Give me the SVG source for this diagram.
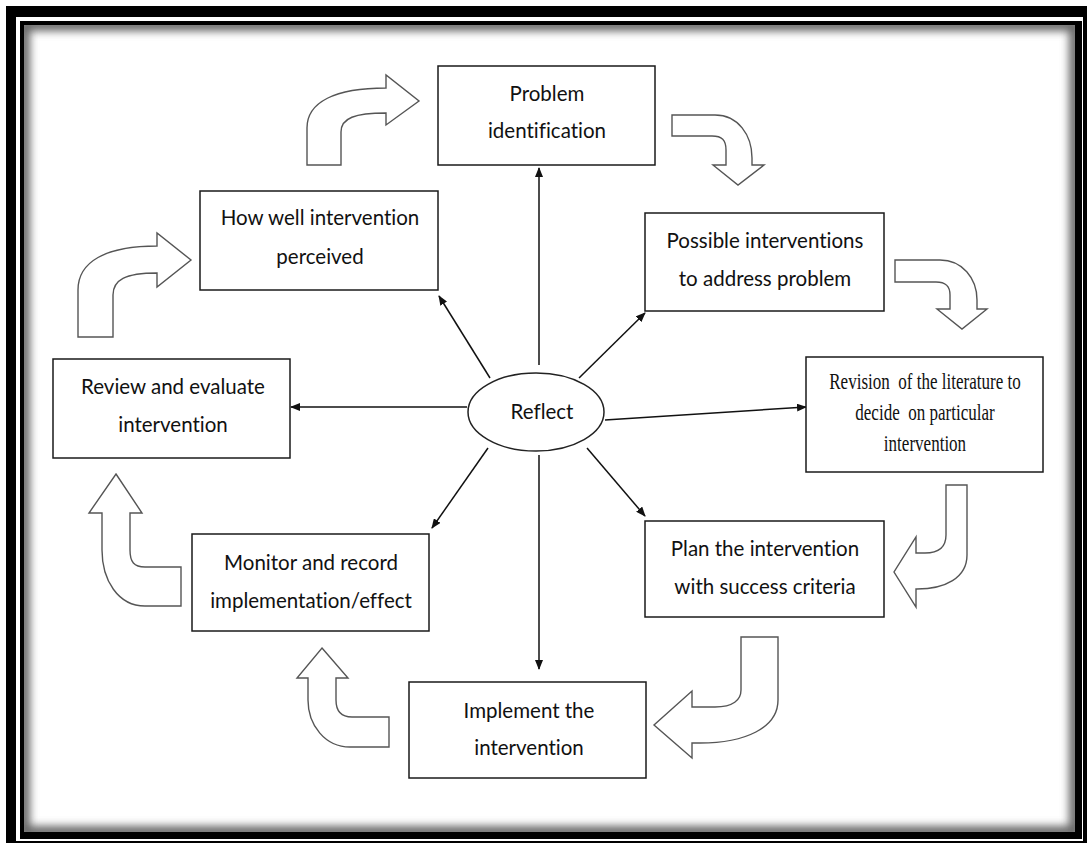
<svg xmlns="http://www.w3.org/2000/svg" width="1092" height="847" viewBox="0 0 1092 847">
<defs>
<style>
.box{fill:#fff;stroke:#1a1a1a;stroke-width:1.5}
.t{font-family:Lato,"Liberation Sans",sans-serif;font-size:20.5px;fill:#111;text-anchor:middle;font-variant-ligatures:none}
.ts{font-family:"Liberation Serif","Times New Roman",serif;font-size:24px;fill:#111;text-anchor:middle;white-space:pre}
.ba{fill:#fff;stroke:#555;stroke-width:1.4;stroke-linejoin:miter}
.con line{stroke:#111;stroke-width:1.5;marker-end:url(#ah)}
</style>
<marker id="ah" markerWidth="10" markerHeight="8" refX="9" refY="4" orient="auto" markerUnits="userSpaceOnUse">
<path d="M0,0 L10,4 L0,8 Z" fill="#111"/>
</marker>
<clipPath id="inner"><rect x="24" y="25" width="1051" height="807"/></clipPath>
<filter id="blur" x="-5%" y="-5%" width="110%" height="110%"><feGaussianBlur stdDeviation="4"/></filter>
</defs>
<rect width="1092" height="847" fill="#fff"/>
<g id="frame">
<path d="M6,6 H1087 V843 H6 Z M16,17 V841 H1083 V17 Z" fill="#000" fill-rule="evenodd"/>
<path d="M20,21 H1082 V839 H20 Z M24,25 V832 H1075 V25 Z" fill="#000" fill-rule="evenodd"/>
<g clip-path="url(#inner)"><rect x="24" y="25" width="1051" height="807" fill="none" stroke="#666" stroke-width="12" filter="url(#blur)"/></g>
</g>
<g id="block-arrows">
<path class="ba" d="M307,165 L307,128 C307,102 335,88 386,88 L386,75 L419,101 L386,125 L386,113 C355,113 341,118 341,132 L341,165 Z"/>
<path class="ba" d="M672,115 L715,115 C738,115 752,135 752,158 L752,165 L764,165 L738,185 L713,165 L726,165 L726,150 C726,140 722,136 712,136 L672,136 Z"/>
<path class="ba" d="M895,260 L940,260 C962,260 977,278 977,300 L977,309 L987,309 L962,329 L937,309 L950,309 L950,295 C950,286 946,282 936,282 L895,282 Z"/>
<path class="ba" d="M946,485 L967,485 L967,555 C967,578 945,589 917,589 L916,589 L916,607 L894,572 L916,537 L916,553 L925,553 C938,553 946,548 946,535 Z"/>
<path class="ba" d="M741,637 L778,637 L778,700 C778,728 745,743 700,743 L692,743 L692,758 L654,725 L692,691 L692,707 L715,707 C733,707 741,700 741,690 Z"/>
<path class="ba" d="M322,648 L348,678 L336,678 L336,700 C336,712 342,717 352,717 L389,717 L389,747 L350,747 C325,747 308,725 308,700 L308,678 L297,678 Z"/>
<path class="ba" d="M116,474 L142,513 L130,513 L130,550 C130,562 134,567 145,567 L181,567 L181,606 L145,606 C118,606 102,580 102,550 L102,513 L89,513 Z"/>
<path class="ba" d="M78,337 L78,290 C78,262 105,246 157,246 L157,233 L191,260 L157,287 L157,273 C125,273 113,280 113,295 L113,337 Z"/>
</g>
<g id="connectors" class="con">
<line x1="539" y1="365" x2="539" y2="168"/>
<line x1="579" y1="378" x2="645" y2="313"/>
<line x1="605" y1="420" x2="806" y2="407"/>
<line x1="587" y1="448" x2="645" y2="516"/>
<line x1="539" y1="455" x2="539" y2="669"/>
<line x1="488" y1="448" x2="432" y2="528"/>
<line x1="467" y1="407" x2="291" y2="407"/>
<line x1="490" y1="378" x2="439" y2="296"/>
</g>
<g id="n-problem"><rect class="box" x="438" y="66" width="217" height="99"/><text class="t" x="547" y="101">Problem</text><text class="t" x="547" y="138">identification</text></g>
<g id="n-possible"><rect class="box" x="645" y="213" width="239" height="98"/><text class="t" x="765" y="248">Possible interventions</text><text class="t" x="765" y="286">to address problem</text></g>
<g id="n-revision"><rect class="box" x="806" y="357" width="237" height="115"/>
<text class="ts" transform="translate(925,389) scale(0.71,1)">Revision  of the literature to</text>
<text class="ts" transform="translate(925,420) scale(0.71,1)">decide  on particular</text>
<text class="ts" transform="translate(925,451) scale(0.71,1)">intervention</text></g>
<g id="n-plan"><rect class="box" x="645" y="521" width="239" height="96"/><text class="t" x="765" y="556">Plan the intervention</text><text class="t" x="765" y="594">with success criteria</text></g>
<g id="n-implement"><rect class="box" x="409" y="682" width="237" height="96"/><text class="t" x="529" y="718">Implement the</text><text class="t" x="529" y="755">intervention</text></g>
<g id="n-monitor"><rect class="box" x="192" y="534" width="237" height="97"/><text class="t" x="311" y="570">Monitor and record</text><text class="t" x="311" y="608">implementation/effect</text></g>
<g id="n-review"><rect class="box" x="53" y="359" width="237" height="99"/><text class="t" x="173" y="394">Review and evaluate</text><text class="t" x="173" y="432">intervention</text></g>
<g id="n-howwell"><rect class="box" x="200" y="191" width="238" height="99"/><text class="t" x="320" y="225">How well intervention</text><text class="t" x="320" y="264">perceived</text></g>
<g id="n-reflect"><ellipse cx="536" cy="412" rx="68" ry="39" fill="#fff" stroke="#222" stroke-width="1.5"/><text class="t" x="542" y="419">Reflect</text></g>
</svg>
